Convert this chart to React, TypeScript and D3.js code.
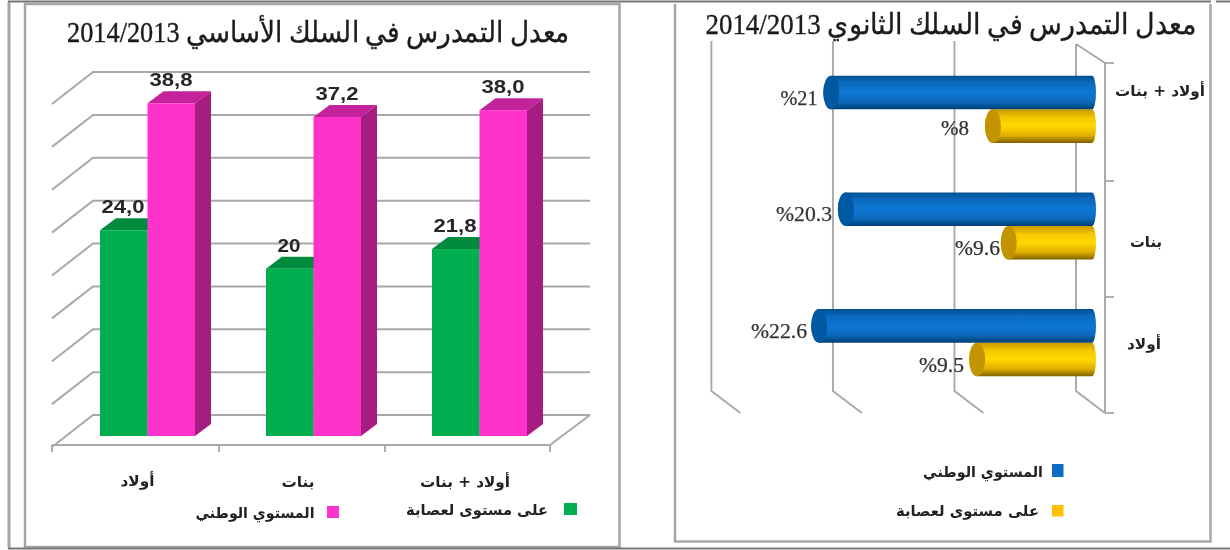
import React from "react";
import * as d3 from "d3";

const leftTitle = "معدل التمدرس في السلك الأساسي 2014/2013";
const rightTitle = "معدل التمدرس في السلك الثانوي 2014/2013";
const leftCategories = ["أولاد", "بنات", "أولاد + بنات"];
const localValues = [24.0, 19.5, 21.8];
const nationalValues = [38.8, 37.2, 38.0];
const localLabels = ["24,0", "20", "21,8"];
const nationalLabels = ["38,8", "37,2", "38,0"];
const leftTicks = [0, 5, 10, 15, 20, 25, 30, 35, 40];

const rightCategories = ["أولاد + بنات", "بنات", "أولاد"];
const rightNational = [21.7, 20.5, 22.7];
const rightLocal = [8.4, 7.1, 9.7];
const rightNationalLabels = ["%21", "%20.3", "%22.6"];
const rightLocalLabels = ["%8", "%9.6", "%9.5"];
const rightTicks = [0, 10, 20, 30];

const legendNational = "المستوي الوطني";
const legendLocal = "على مستوى لعصابة";

const SERIF = "'Liberation Serif','DejaVu Serif',serif";
const SANS = "'Liberation Sans','DejaVu Sans',sans-serif";
const ARABIC = "'DejaVu Sans','Liberation Sans',sans-serif";
const GRID = "#a8a8a8";
const FRAME = "#a6a6a6";
const TXT = "#222";

function LeftChart() {
  const y = d3.scaleLinear().domain([0, 40]).range([436, 93]);
  const band = d3.scaleBand<string>().domain(leftCategories).range([52, 550]);
  const dx = 16, dy = 12, barW = 47.5, lift = 21;
  const edges = [52, 219, 385, 550];
  const box = (x: number, top: number, w: number, front: string, topC: string, side: string, key: string) => (
    <g key={key}>
      <path d={`M${x},${top}l${dx},${-dy}h${w}l${-dx},${dy}z`} fill={topC} />
      <path d={`M${x + w},${top}l${dx},${-dy}V${436 - dy}l${-dx},${dy}z`} fill={side} />
      <rect x={x} y={top} width={w} height={436 - top} fill={front} />
    </g>
  );
  return (
    <g>
      {leftTicks.map((t) => {
        const yb = y(t) - lift;
        return <path key={t} d={`M590,${yb}H93L52,${yb + 32}`} fill="none" stroke={GRID} strokeWidth={2} />;
      })}
      <path d={`M590,${y(0) - lift}L550,445H52`} fill="none" stroke={GRID} strokeWidth={2} />
      {edges.map((x) => (
        <line key={x} x1={x} x2={x} y1={445} y2={452} stroke={GRID} strokeWidth={1.8} />
      ))}
      {leftCategories.map((c, i) => {
        const x0 = band(c)! + band.bandwidth() / 2 + 12.5 - barW;
        return (
          <g key={c}>
            {box(x0, y(localValues[i]), barW, "#00b050", "#008a3e", "#008a3e", c + "l")}
            {box(x0 + barW, y(nationalValues[i]), barW, "#ff33cc", "#c4249c", "#a61c80", c + "n")}
            <text x={x0 + 23} y={y(localValues[i]) - 17} textAnchor="middle" fontFamily={SANS} fontWeight={700} fontSize={19} fill="#262626" textLength={i === 1 ? 23 : 43} lengthAdjust="spacingAndGlyphs">{localLabels[i]}</text>
            <text x={x0 + barW + 23.5} y={y(nationalValues[i]) - 17} textAnchor="middle" fontFamily={SANS} fontWeight={700} fontSize={19} fill="#262626" textLength={43} lengthAdjust="spacingAndGlyphs">{nationalLabels[i]}</text>
          </g>
        );
      })}
      {[137.5, 298, 465].map((x, i) => (
        <text key={i} x={x} y={[486, 487, 487][i]} textAnchor="middle" direction="rtl" fontFamily={ARABIC} fontWeight={700} fontSize={15} fill={TXT} textLength={[34, 33, 90][i]} lengthAdjust="spacingAndGlyphs">{leftCategories[i]}</text>
      ))}
      <rect x={327} y={506} width={12} height={12} fill="#ff33cc" />
      <text x={255} y={518} textAnchor="middle" direction="rtl" fontFamily={ARABIC} fontWeight={700} fontSize={15} fill={TXT} textLength={119} lengthAdjust="spacingAndGlyphs">{legendNational}</text>
      <rect x={564} y={503} width={13} height={12} fill="#00b050" />
      <text x={477} y={515} textAnchor="middle" direction="rtl" fontFamily={ARABIC} fontWeight={700} fontSize={15} fill={TXT} textLength={142} lengthAdjust="spacingAndGlyphs">{legendLocal}</text>
    </g>
  );
}

function RightChart() {
  const x = d3.scaleLinear().domain([0, 30]).range([1076, 711.4]);
  const band = d3.scaleBand<string>().domain(rightCategories).range([63, 413]);
  const off = 19, h = 33.6, cap = 8;
  const cyl = (v: number, yTop: number, fill: string, capFill: string, key: string) => {
    const xl = x(v) + off;
    const xr = x(0) + off;
    return (
      <g key={key}>
        <path d={`M${xl},${yTop}H${xr - 3}A4,${h / 2} 0 0 1 ${xr - 3},${yTop + h}H${xl}A${cap},${h / 2} 0 0 1 ${xl},${yTop}z`} fill={`url(#${fill})`} />
        <ellipse cx={xl} cy={yTop + h / 2} rx={cap} ry={h / 2} fill={capFill} />
      </g>
    );
  };
  const natLabelX = [799, 804, 779];
  const natLabelY = [104, 219.5, 337];
  const locLabelX = [955, 977.5, 941.5];
  const locLabelY = [133.5, 253.5, 370.5];
  const natW = [37, 56, 56];
  const locW = [28, 45, 45];
  return (
    <g>
      <defs>
        <linearGradient id="blueCyl" x1="0" x2="0" y1="0" y2="1">
          <stop offset="0" stopColor="#05508f" />
          <stop offset="0.2" stopColor="#0768bd" />
          <stop offset="0.5" stopColor="#0a78d6" />
          <stop offset="0.78" stopColor="#0868ba" />
          <stop offset="1" stopColor="#033f73" />
        </linearGradient>
        <linearGradient id="goldCyl" x1="0" x2="0" y1="0" y2="1">
          <stop offset="0" stopColor="#c79a00" />
          <stop offset="0.25" stopColor="#f5c800" />
          <stop offset="0.5" stopColor="#ffd800" />
          <stop offset="0.78" stopColor="#e0ae00" />
          <stop offset="1" stopColor="#7d6200" />
        </linearGradient>
      </defs>
      {rightTicks.map((t) => (
        <path key={t} d={`M${x(t)},${t === 0 ? 44 : 41}V391l29,22`} fill="none" stroke={GRID} strokeWidth={1.9} />
      ))}
      <path d="M1076,44L1105,63V413" fill="none" stroke={GRID} strokeWidth={1.9} />
      {[63, 181, 297, 413].map((yy) => (
        <line key={yy} x1={1105} x2={1114} y1={yy} y2={yy} stroke={GRID} strokeWidth={1.8} />
      ))}
      {rightCategories.map((c, i) => {
        const y0 = band(c)! + band.bandwidth() / 2 - 12 - h;
        return (
          <g key={c}>
            {cyl(rightLocal[i], y0 + h, "goldCyl", "#c29400", c + "l")}
            {cyl(rightNational[i], y0, "blueCyl", "#0558a2", c + "n")}
          </g>
        );
      })}
      {rightCategories.map((c, i) => (
        <g key={c}>
          <text x={natLabelX[i]} y={natLabelY[i] + 1} textAnchor="middle" fontFamily={SERIF} fontSize={20} fill="#333" stroke="#333" strokeWidth={0.25} textLength={natW[i]} lengthAdjust="spacingAndGlyphs">{rightNationalLabels[i]}</text>
          <text x={locLabelX[i]} y={locLabelY[i] + 1} textAnchor="middle" fontFamily={SERIF} fontSize={20} fill="#333" stroke="#333" strokeWidth={0.25} textLength={locW[i]} lengthAdjust="spacingAndGlyphs">{rightLocalLabels[i]}</text>
        </g>
      ))}
      {[1160, 1146, 1144].map((cx, i) => (
        <text key={i} x={cx} y={[96, 247, 349][i]} textAnchor="middle" direction="rtl" fontFamily={ARABIC} fontWeight={700} fontSize={15} fill={TXT} textLength={[90, 32, 34][i]} lengthAdjust="spacingAndGlyphs">{rightCategories[i]}</text>
      ))}
      <rect x={1052} y={464} width={11.5} height={13} fill="#0a6cc4" />
      <text x={983} y={477} textAnchor="middle" direction="rtl" fontFamily={ARABIC} fontWeight={700} fontSize={15} fill={TXT} textLength={120} lengthAdjust="spacingAndGlyphs">{legendNational}</text>
      <rect x={1052} y={505} width={11.5} height={11.5} fill="#ffc000" />
      <text x={967.5} y={516} textAnchor="middle" direction="rtl" fontFamily={ARABIC} fontWeight={700} fontSize={15} fill={TXT} textLength={143} lengthAdjust="spacingAndGlyphs">{legendLocal}</text>
    </g>
  );
}

export default function App() {
  return (
    <svg width={1230} height={550} style={{ position: "absolute", left: 0, top: 0, background: "#fff" }}>
      <defs>
        <filter id="soft" x="0" y="0" width="100%" height="100%">
          <feGaussianBlur stdDeviation="0.45" />
        </filter>
      </defs>
      <g filter="url(#soft)">
        <rect width={1230} height={550} fill="#fff" />
        <g fill="none">
          <path d="M9,2V548" stroke={FRAME} strokeWidth={3} />
          <rect x={25} y={4} width={594.5} height={543} stroke={FRAME} strokeWidth={2.5} />
          <path d="M675,4V541.5H1210.5V4" stroke={FRAME} strokeWidth={2.5} />
          <path d="M8,1.5H1211M1216,1.5H1230" stroke="#777" strokeWidth={2} />
          <path d="M8,548.5H1230" stroke="#777" strokeWidth={2} />
        </g>
        <text x={318.5} y={42} textAnchor="middle" direction="rtl" fontFamily={SERIF} fontSize={29} fill="#1a1a1a" stroke="#1a1a1a" strokeWidth={0.35} textLength={503} lengthAdjust="spacingAndGlyphs">{leftTitle}</text>
        <text x={951} y={34} textAnchor="middle" direction="rtl" fontFamily={SERIF} fontSize={29} fill="#1a1a1a" stroke="#1a1a1a" strokeWidth={0.35} textLength={491} lengthAdjust="spacingAndGlyphs">{rightTitle}</text>
        <LeftChart />
        <RightChart />
      </g>
    </svg>
  );
}
